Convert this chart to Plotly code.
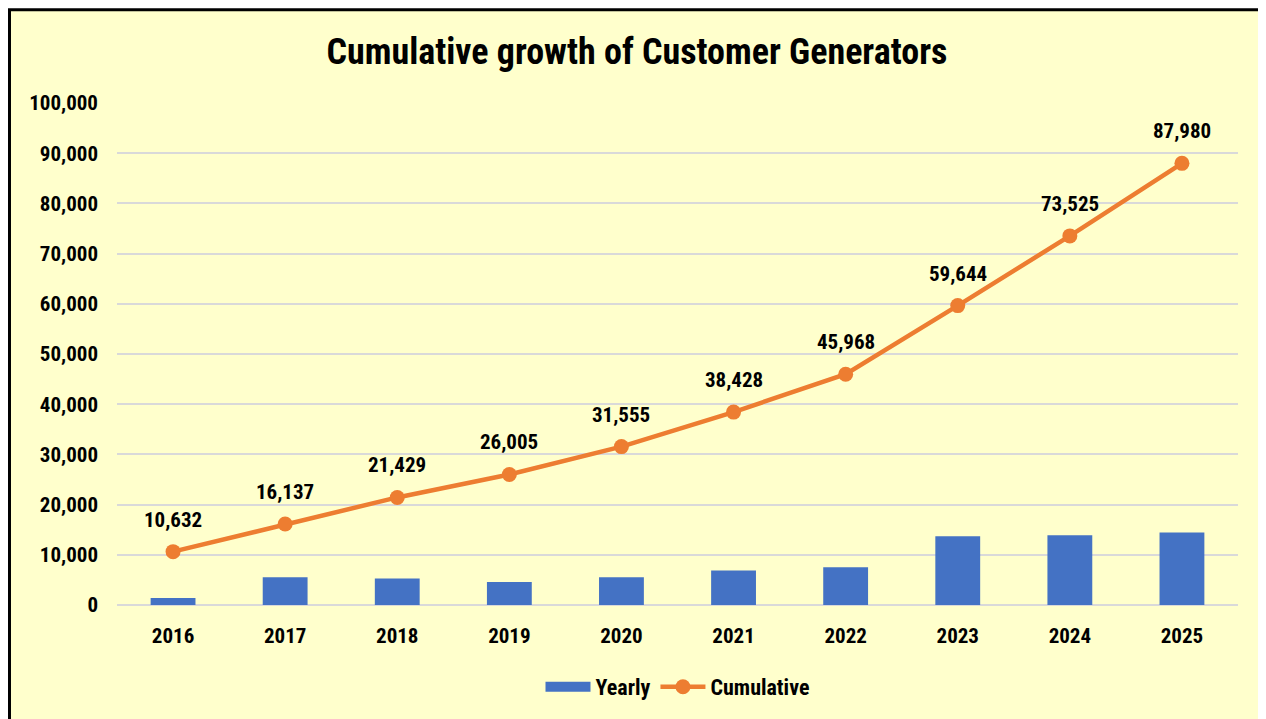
import plotly.graph_objects as go

years = ["2016", "2017", "2018", "2019", "2020", "2021", "2022", "2023", "2024", "2025"]
yearly = [1400, 5505, 5292, 4576, 5550, 6873, 7540, 13676, 13881, 14455]
cumulative = [10632, 16137, 21429, 26005, 31555, 38428, 45968, 59644, 73525, 87980]
y_ticks = [0, 10000, 20000, 30000, 40000, 50000, 60000, 70000, 80000, 90000, 100000]

FONT = "Roboto Condensed, Liberation Sans Narrow, Arial Narrow, Liberation Sans, Arial, sans-serif"
BLUE = "#4472C4"
ORANGE = "#ED7D31"
# page has 8px body margin; figure coords = page coords - 8
W, H = 1258, 711
L, R, T, B = 109, 28, 95, 113
pw, ph = W - L - R, H - T - B

def px_x(x):
    return (x - L) / pw

def px_y(y):
    return (H - B - y) / ph

fig = go.Figure()
fig.add_trace(go.Bar(x=years, y=yearly, name="Yearly", showlegend=False,
                     marker=dict(color=BLUE, line=dict(width=0))))
# legend-only entry giving a wide rectangular swatch like the original
fig.add_trace(go.Scatter(x=[None], y=[None], name="<b>Yearly</b>", mode="lines",
                         line=dict(color=BLUE, width=12), hoverinfo="skip"))
fig.add_trace(go.Scatter(x=years, y=cumulative, name="<b>Cumulative</b>", mode="lines+markers",
                         line=dict(color=ORANGE, width=4.5),
                         marker=dict(color=ORANGE, size=15)))

for i, v in enumerate(cumulative):
    fig.add_annotation(x=i, y=v, xref="x", yref="y", text=f"<b>{v:,}</b>", showarrow=False, yshift=32,
                       font=dict(family=FONT, size=21, color="#000000"))

fig.add_shape(type="rect", xref="paper", yref="paper", layer="below",
              x0=px_x(1.5), x1=px_x(1270), y0=px_y(720), y1=px_y(1.5),
              fillcolor="#FFFFCC", line=dict(color="#000000", width=3))

fig.update_layout(
    width=W, height=H,
    margin=dict(l=L, r=R, t=T, b=B),
    paper_bgcolor="#FFFFFF",
    plot_bgcolor="rgba(0,0,0,0)",
    bargap=0.6,
    title=dict(text="<b>Cumulative growth of Customer Generators</b>", x=0.5, xanchor="center",
               y=1 - 43 / H, yanchor="middle",
               font=dict(family=FONT, size=36, color="#000000")),
    font=dict(family=FONT, color="#000000"),
    legend=dict(orientation="h", x=0.5, xanchor="center", y=px_y(679), yanchor="middle",
                font=dict(family=FONT, size=22, color="#000000"), bgcolor="rgba(0,0,0,0)",
                traceorder="normal", itemwidth=45),
    showlegend=True,
)
fig.update_xaxes(type="category", range=[-0.5, len(years) - 0.5], showgrid=False, showline=False,
                 ticks="", ticklabelstandoff=16,
                 tickfont=dict(family=FONT, size=21, color="#000000"),
                 tickprefix="<b>", ticksuffix="</b>")
fig.update_yaxes(range=[0, 100000], tickvals=y_ticks, ticktext=[f"<b>{v:,}</b>" for v in y_ticks],
                 showgrid=True, gridcolor="#D9D9D9", gridwidth=2, zeroline=True,
                 zerolinecolor="#D9D9D9", zerolinewidth=2, showline=False, ticks="",
                 ticklabelstandoff=18, tickfont=dict(family=FONT, size=21, color="#000000"))

fig.write_html("out.html")
